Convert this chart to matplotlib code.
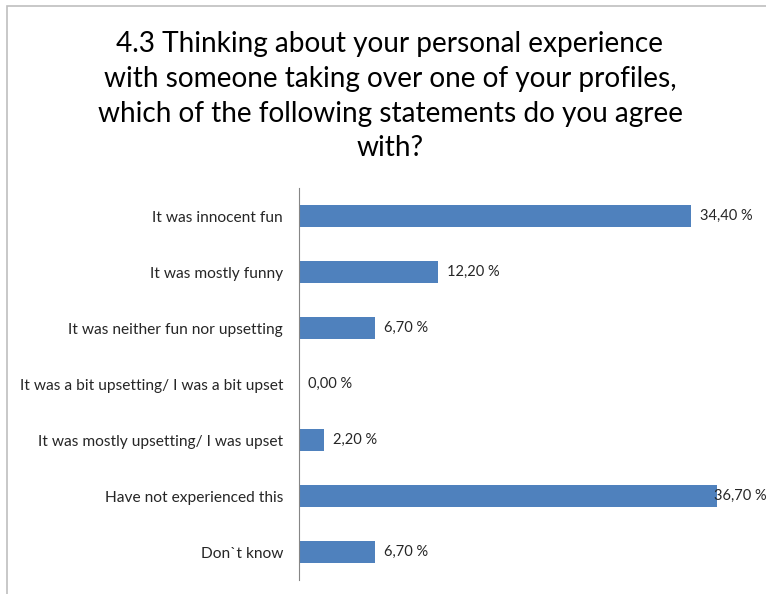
import matplotlib.pyplot as plt
from matplotlib.patches import Rectangle

categories = ['It was innocent fun', 'It was mostly funny', 'It was neither fun nor upsetting',
              'It was a bit upsetting/ I was a bit upset', 'It was mostly upsetting/ I was upset',
              'Have not experienced this', 'Don`t know']
values = [34.4, 12.2, 6.7, 0.0, 2.2, 36.7, 6.7]

title = ('4.3 Thinking about your personal experience\n'
         'with someone taking over one of your profiles,\n'
         'which of the following statements do you agree\n'
         'with?')

plt.rcParams['font.family'] = ['Lato', 'DejaVu Sans']

fig = plt.figure(figsize=(7.66, 5.94), dpi=100)
ax = fig.add_axes([299/766, 14/594, 456/766, 392/594])

# grey frame round the chart area
fig.patches.append(Rectangle((7/766, -0.05), 1.1, (594-6)/594 + 0.05, transform=fig.transFigure,
                             fill=False, edgecolor='#BFBFBF', linewidth=1.2))

ypos = list(range(len(categories)))
ax.barh(ypos, values, height=0.4, color='#4F81BD')
ax.set_ylim(len(categories) - 0.5, -0.5)
ax.set_xlim(0, 40)

for y, v in zip(ypos, values):
    lx = min(v + 0.8, 36.4)
    ax.text(lx, y, ('%.2f %%' % v).replace('.', ','), va='center', ha='left',
            fontsize=10.5, color='#262626')

ax.set_yticks(ypos)
ax.set_yticklabels(categories, fontsize=11.2, color='#262626')
ax.tick_params(axis='y', length=0, pad=11.5)
ax.set_xticks([])
for s in ['top', 'right', 'bottom']:
    ax.spines[s].set_visible(False)
ax.spines['left'].set_color('#868686')
ax.spines['left'].set_linewidth(0.8)

fig.text(390/766, 1 - 31/594, title, ha='center', va='top', fontsize=20.2,
         linespacing=1.42, color='black')

plt.savefig('out.png', dpi=100)
